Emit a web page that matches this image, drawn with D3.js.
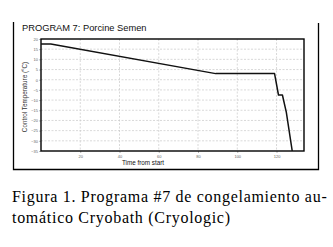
<!DOCTYPE html>
<html><head><meta charset="utf-8">
<script src="https://cdn.jsdelivr.net/npm/d3@7"></script>
<style>body{margin:0;background:#fff}svg{display:block}</style>
</head><body>
<script>
const times = [0, 5, 89, 119, 121, 123, 125, 128];
const temps = [17.5, 17.5, 3, 3, -7.5, -7.5, -16, -35];
const xTicks = [20, 40, 60, 80, 100, 120];
const yTicks = [20, 15, 10, 5, 0, -5, -10, -15, -20, -25, -30, -35];
const title = "PROGRAM 7: Porcine Semen";
const xLabel = "Time from start";
const yLabel = "Control Temperature (°C)";
const captionLines = ["Figura 1. Programa #7 de congelamiento au-", "tomático Cryobath (Cryologic)"];

const W = 333, H = 247;
const svg = d3.select("body").append("svg").attr("width", W).attr("height", H);
const m = {l: 41, t: 39, r: 304, b: 151};
const x = d3.scaleLinear().domain([0, 134]).range([m.l, m.r]);
const y = d3.scaleLinear().domain([-35, 20]).range([m.b, m.t]);

// outer frame (left, right, bottom)
svg.append("path").attr("d", `M13.5,22 V169.5 H318.5 V23`)
  .attr("fill", "none").attr("stroke", "#000").attr("stroke-width", 1.3);

svg.append("text").attr("x", 22).attr("y", 31).text(title)
  .attr("font-family", "Liberation Sans, Arial, sans-serif").attr("font-size", 9.3).attr("fill", "#111");

// grid
const g = svg.append("g");
g.selectAll(".hg").data(yTicks.filter(d => d > -35 && d < 20)).join("line")
  .attr("x1", m.l).attr("x2", m.r).attr("y1", d => y(d)).attr("y2", d => y(d))
  .attr("stroke", "#c8c8c8").attr("stroke-width", 0.7).attr("stroke-dasharray", "2,1.5");
g.selectAll(".vg").data(xTicks).join("line")
  .attr("y1", m.t).attr("y2", m.b).attr("x1", d => x(d)).attr("x2", d => x(d))
  .attr("stroke", "#c8c8c8").attr("stroke-width", 0.7).attr("stroke-dasharray", "2,1.5");

// axes tick labels
const yAxis = d3.axisLeft(y).tickValues(yTicks).tickSize(2).tickPadding(1);
const ya = svg.append("g").attr("transform", `translate(${m.l},0)`).call(yAxis);
const xAxis = d3.axisBottom(x).tickValues(xTicks).tickSize(2).tickPadding(2);
const xa = svg.append("g").attr("transform", `translate(0,${m.b})`).call(xAxis);
[ya, xa].forEach(a => {
  a.select(".domain").remove();
  a.selectAll(".tick line").attr("stroke", "#888").attr("stroke-width", 0.6);
  a.selectAll("text").attr("font-size", 4).attr("fill", "#666").attr("font-family", "Liberation Sans, Arial, sans-serif");
});

// plot border
svg.append("rect").attr("x", m.l).attr("y", m.t).attr("width", m.r - m.l).attr("height", m.b - m.t)
  .attr("fill", "none").attr("stroke", "#000").attr("stroke-width", 1.4);

// line
const line = d3.line().x((d, i) => x(times[i])).y((d, i) => y(temps[i]));
svg.append("path").datum(temps).attr("d", line)
  .attr("fill", "none").attr("stroke", "#111").attr("stroke-width", 1.5).attr("stroke-linejoin", "round");

// axis labels
svg.append("text").attr("x", 143).attr("y", 165).attr("text-anchor", "middle").text(xLabel)
  .attr("font-family", "Liberation Sans, Arial, sans-serif").attr("font-size", 6.3).attr("fill", "#111");
svg.append("text").attr("transform", `translate(27,${(m.t + m.b) / 2 + 2}) rotate(-90)`)
  .attr("text-anchor", "middle").text(yLabel)
  .attr("font-family", "Liberation Sans, Arial, sans-serif").attr("font-size", 6.3).attr("fill", "#333");

// caption (first line justified)
const caps = svg.selectAll(".cap").data(captionLines).join("text")
  .attr("x", 12).attr("y", (d, i) => 202 + i * 21).text(d => d)
  .attr("font-family", "Liberation Serif, Times New Roman, serif").attr("font-size", 16).attr("fill", "#000");
const second = caps.filter((d, i) => i === 1);
const w2 = second.node().getComputedTextLength();
const ls = Math.max(0, (218 - w2) / (captionLines[1].length - 1));
caps.attr("letter-spacing", ls);
const first = caps.filter((d, i) => i === 0);
const natural = first.node().getComputedTextLength();
const spaces = (captionLines[0].match(/ /g) || []).length;
const extra = (306 - natural) / spaces;
if (extra > 0) first.attr("word-spacing", extra);
</script>
</body></html>
